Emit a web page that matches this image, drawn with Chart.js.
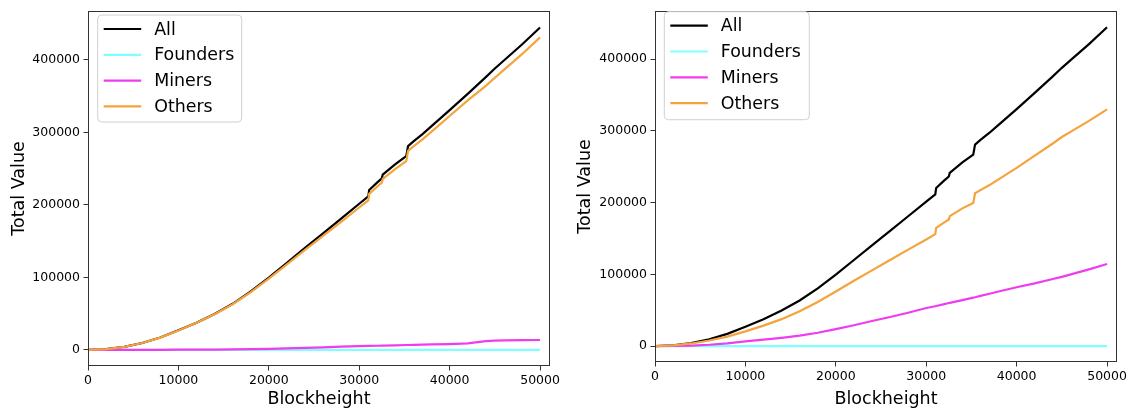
<!DOCTYPE html>
<html><head><meta charset="utf-8">
<script src="https://cdn.jsdelivr.net/npm/chart.js@4.4.0/dist/chart.umd.min.js"></script>
<style>
html,body{margin:0;padding:0;background:#fff;}
#wrap{position:relative;width:1131px;height:410px;overflow:hidden;background:#fff;}
canvas{position:absolute;top:0;}
</style></head><body>
<div id="wrap">
<canvas id="c1" width="565" height="410" style="left:0;width:565px;height:410px"></canvas>
<canvas id="c2" width="566" height="410" style="left:565px;width:566px;height:410px"></canvas>
</div>
<script>
// ---- data ----
const blockheights = [0,2000,4000,6000,8000,10000,12000,14000,16000,18000,20000,22000,24000,26000,28000,30000,31000,31100,32000,32500,32600,34000,35200,35400,36000,37000,38000,40000,42000,44000,45000,46000,48000,50000];
const allValues   = [0,1000,4200,9500,17000,27000,37500,49500,63500,80500,99500,120000,140500,160500,181000,201500,211500,220500,231000,236500,241500,256000,267000,281000,287500,297500,308500,330500,353000,376000,388000,399000,421000,444500];
const founders    = [0,0,0,0,0,0,0,0,0,0,0,0,0,0,0,0,0,0,0,0,0,0,0,0,0,0,0,0,0,0,0,0,0,0];
const minersLeft  = [0,0,0,50,100,200,250,400,600,900,1400,2000,2700,3400,4500,5200,5400,5400,5700,5800,5800,6300,6700,6700,6900,7200,7500,8000,9000,12000,12800,13000,13300,13600];
const othersLeft  = [0,1000,4200,9450,16900,26800,37250,49100,62900,79600,98100,118000,137800,157100,176500,196300,206100,215100,225300,230700,235700,249700,260300,274300,280600,290300,301000,322500,344000,364000,375200,386000,407700,430900];
const minersRight = [0,100,600,1800,3800,6500,9000,11500,14500,18500,23500,29000,35000,40500,46500,53000,55500,55800,58500,60000,60300,64000,67500,68000,70000,73000,76000,82000,87500,93500,96500,100000,107000,114500];
const othersRight = [0,900,3600,7700,13200,20500,28500,37500,48500,61500,76000,91000,105500,120000,134500,148500,156000,164700,172500,176500,181200,192000,199500,213000,217500,224500,232500,248500,265500,282500,291500,299000,314000,330000];
const seriesLabels = ['All','Founders','Miners','Others'];
const xTicks = [0,10000,20000,30000,40000,50000];
const yTicks = [0,100000,200000,300000,400000];
const xTitle = 'Blockheight';
const yTitle = 'Total Value';

// ---- styling ----
const FONT = 'DejaVu Sans';
const seriesColors = ['#000000','#7fffff','#f03cf0','#f5a33c'];
const seriesOrder = [4,3,2,1];

function pts(arr){ return blockheights.map((x,i)=>({x:x, y:arr[i]})); }

function framePlugin(){
  return {id:'frame', afterDatasetsDraw(chart){
    const a = chart.chartArea, ctx = chart.ctx;
    ctx.save();
    ctx.strokeStyle = '#333'; ctx.lineWidth = 1;
    ctx.strokeRect(Math.round(a.left)+0.5, Math.round(a.top)+0.5, Math.round(a.right-a.left)-1, Math.round(a.bottom-a.top)-1);
    ctx.restore();
  }};
}
function legendPlugin(g){
  return {id:'boxLegend', afterDraw(chart){
    const ctx = chart.ctx;
    ctx.save();
    const x=g.lx, y=g.ly, w=g.lw, h=g.lh, r=4;
    ctx.beginPath();
    ctx.moveTo(x+r,y); ctx.lineTo(x+w-r,y); ctx.quadraticCurveTo(x+w,y,x+w,y+r);
    ctx.lineTo(x+w,y+h-r); ctx.quadraticCurveTo(x+w,y+h,x+w-r,y+h);
    ctx.lineTo(x+r,y+h); ctx.quadraticCurveTo(x,y+h,x,y+h-r);
    ctx.lineTo(x,y+r); ctx.quadraticCurveTo(x,y,x+r,y); ctx.closePath();
    ctx.fillStyle='rgba(255,255,255,0.85)'; ctx.fill();
    ctx.strokeStyle='#d0d0d0'; ctx.lineWidth=1; ctx.stroke();
    ctx.font = '17.4px "'+FONT+'"';
    ctx.textBaseline='middle'; ctx.textAlign='left';
    chart.data.datasets.forEach((ds,i)=>{
      const ry = y + 14 + i*25.8;
      ctx.beginPath(); ctx.strokeStyle=ds.borderColor; ctx.lineWidth=2.2;
      ctx.moveTo(x+6, ry); ctx.lineTo(x+43.5, ry); ctx.stroke();
      ctx.fillStyle='#000'; ctx.fillText(ds.label, x+56.5, ry+1);
    });
    ctx.restore();
  }};
}

function makeChart(id, miners, others, g){
  const series = [allValues, founders, miners, others];
  new Chart(document.getElementById(id), {
    type:'line',
    data:{datasets: series.map((s,i)=>({
      label: seriesLabels[i], data: pts(s), borderColor: seriesColors[i], backgroundColor: seriesColors[i],
      borderWidth: 2.2, pointRadius: 0, tension: 0, fill:false, order: seriesOrder[i]
    }))},
    options:{
      responsive:false, animation:false, devicePixelRatio:1,
      layout:{padding:{left:0, top:g.top, right:g.right, bottom:0}},
      plugins:{legend:{display:false}, tooltip:{enabled:false}},
      scales:{
        x:{type:'linear', min:0, max:51100, position:'bottom',
          afterBuildTicks:s=>{ s.ticks = xTicks.map(v=>({value:v})); },
          afterFit:s=>{ s.height = g.xh; },
          ticks:{font:{family:FONT,size:12.5}, color:'#000', padding:3, maxRotation:0, autoSkip:false, callback:v=>String(v)},
          grid:{display:true, drawOnChartArea:false, drawTicks:true, tickLength:4.5, color:'#333', lineWidth:1},
          border:{display:false},
          title:{display:true, text:xTitle, font:{family:FONT,size:17.5}, color:'#000', padding:{top:0,bottom:g.xtp}}
        },
        y:{type:'linear', min:-22250, max:467250, position:'left',
          afterBuildTicks:s=>{ s.ticks = yTicks.map(v=>({value:v})); },
          afterFit:s=>{ s.width = g.yw; },
          ticks:{font:{family:FONT,size:12.5}, color:'#000', padding:3.5, autoSkip:false, callback:v=>String(v)},
          grid:{display:true, drawOnChartArea:false, drawTicks:true, tickLength:4.5, color:'#333', lineWidth:1},
          border:{display:false},
          title:{display:true, text:yTitle, font:{family:FONT,size:17.5}, color:'#000', padding:{top:g.ytp,bottom:0}}
        }
      }
    },
    plugins:[framePlugin(), legendPlugin(g)]
  });
}

makeChart('c1', minersLeft, othersLeft, {top:5, right:15, xh:44, yw:88, xtp:0, ytp:8.5, lx:97.7, ly:15, lw:144, lh:107});
makeChart('c2', minersRight, othersRight, {top:3, right:14, xh:48, yw:90, xtp:0, ytp:10, lx:99.3, ly:11.7, lw:145, lh:108});
</script>
</body></html>
